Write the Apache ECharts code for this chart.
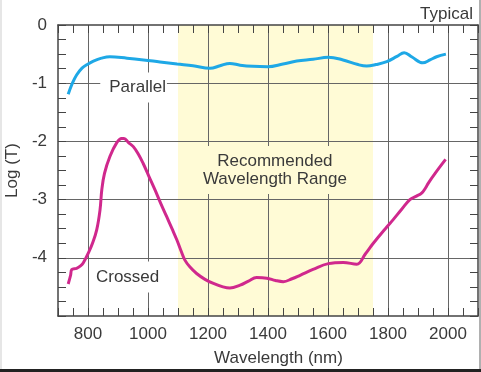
<!DOCTYPE html>
<html>
<head>
<meta charset="utf-8">
<script src="https://cdn.jsdelivr.net/npm/echarts@6/dist/echarts.min.js"></script>
<style>html,body{margin:0;padding:0;background:#fff;}#c{width:481px;height:372px;}</style>
</head>
<body>
<div id="c"></div>
<script>
// ---- data ----
var parallel = [[734,-1.19],[748,-1.0],[762,-0.86],[780,-0.74],[800,-0.67],[818,-0.62],[845,-0.57],[873,-0.545],[930,-0.57],[985,-0.60],[1040,-0.635],[1097,-0.67],[1150,-0.70],[1207,-0.745],[1240,-0.70],[1273,-0.66],[1307,-0.69],[1350,-0.71],[1399,-0.716],[1450,-0.67],[1496,-0.62],[1550,-0.59],[1601,-0.555],[1650,-0.60],[1700,-0.68],[1729,-0.705],[1760,-0.68],[1796,-0.63],[1830,-0.54],[1854,-0.475],[1880,-0.55],[1916,-0.65],[1940,-0.60],[1962,-0.545],[1993,-0.50]];
var crossed = [[734,-4.45],[742,-4.30],[746,-4.20],[762,-4.18],[775,-4.14],[784,-4.09],[801,-3.92],[815,-3.75],[829,-3.52],[840,-3.18],[846,-2.83],[855,-2.55],[873,-2.26],[895,-2.03],[912,-1.95],[920,-1.95],[935,-2.02],[951,-2.09],[968,-2.22],[984,-2.38],[1003,-2.60],[1023,-2.83],[1042,-3.06],[1062,-3.29],[1080,-3.50],[1096,-3.69],[1110,-3.88],[1123,-4.04],[1140,-4.16],[1162,-4.27],[1190,-4.37],[1218,-4.44],[1250,-4.50],[1273,-4.52],[1307,-4.47],[1335,-4.40],[1362,-4.34],[1396,-4.35],[1425,-4.39],[1451,-4.41],[1480,-4.36],[1507,-4.30],[1550,-4.20],[1601,-4.10],[1651,-4.08],[1696,-4.11],[1725,-3.93],[1751,-3.75],[1796,-3.47],[1818,-3.34],[1845,-3.17],[1873,-3.0],[1895,-2.94],[1912,-2.89],[1925,-2.80],[1934,-2.72],[1957,-2.55],[1992,-2.31]];
var xTickLabels = [800,1000,1200,1400,1600,1800,2000];
var yTickLabels = [0,-1,-2,-3,-4];
var xGridLines = [800,1000,1200,1400,1600,1800,2000];
var yGridLines = [-1,-2,-3,-4];
var recommendedRange = [1100,1750];
var annotations = [
  {text:'Parallel', coord:[952,-1.074], bg:'#ffffff', padding:[6,1,6,9]},
  {text:'Crossed', coord:[932,-4.33], bg:'#ffffff', padding:[6,4,7,4]},
  {text:'Recommended\nWavelength Range', coord:[1423,-2.49], bg:'#fffbd6', padding:[7,8,5,8]}
];

var FONT = 'Liberation Sans, Arial, Helvetica, sans-serif';
var TXT = '#3a3a3a';
var AX = '#444';

function xAxisDef(pos, showLabel){
  return {
    type:'value', position:pos, min:700, max:2100, interval:50, z:3,
    axisLine:{show:true, onZero:false, lineStyle:{color:AX, width:1.5}},
    axisTick:{show:true, inside:true, length:8, lineStyle:{color:AX, width:1}},
    axisLabel:{show:showLabel, margin:10, fontSize:17, fontFamily:FONT, color:TXT,
      formatter:function(v){ return xTickLabels.indexOf(v) >= 0 ? String(v) : ''; }},
    splitLine:{show:false}
  };
}
function yAxisDef(pos, showLabel){
  return {
    type:'value', position:pos, min:-5, max:0, interval:0.25, z:3,
    axisLine:{show:true, onZero:false, lineStyle:{color:AX, width:1.5}},
    axisTick:{show:true, inside:true, length:8, lineStyle:{color:AX, width:1}},
    axisLabel:{show:showLabel, margin:11, fontSize:17, fontFamily:FONT, color:TXT,
      formatter:function(v){ return yTickLabels.indexOf(v) >= 0 ? String(v) : ''; }},
    splitLine:{show:false}
  };
}

var xa0 = xAxisDef('bottom', true);
xa0.name = 'Wavelength (nm)';
xa0.nameLocation = 'middle';
xa0.nameGap = 34;
xa0.nameTextStyle = {fontSize:17, fontFamily:FONT, color:TXT, padding:[0,0,0,21]};
var ya0 = yAxisDef('left', true);
ya0.name = 'Log (T)';
ya0.nameLocation = 'middle';
ya0.nameGap = 37;
ya0.nameRotate = 90;
ya0.nameTextStyle = {fontSize:17, fontFamily:FONT, color:TXT};

var gridData = xGridLines.map(function(v){return {xAxis:v};}).concat(yGridLines.map(function(v){return {yAxis:v};}));

var chart = echarts.init(document.getElementById('c'), null, {renderer:'canvas'});
chart.setOption({
  animation:false,
  backgroundColor:'#ffffff',
  title:{text:'Typical', right:3, top:1, textStyle:{fontSize:17, fontWeight:'normal', fontFamily:FONT, color:TXT}},
  grid:{left:58, right:3, top:25, bottom:56, containLabel:false, outerBoundsMode:'none'},
  xAxis:[xa0, xAxisDef('top', false)],
  yAxis:[ya0, yAxisDef('right', false)],
  graphic:[
    {type:'rect', left:0, top:0, shape:{width:2, height:372}, style:{fill:'#e6e6e6'}, z:10},
    {type:'rect', left:479, top:0, shape:{width:2, height:372}, style:{fill:'#b0b0b0'}, z:10},
    {type:'rect', left:0, top:369, shape:{width:481, height:3}, style:{fill:'#222'}, z:10}
  ],
  series:[
    {type:'line', data:[], z:1, silent:true,
      markArea:{silent:true, z:1, itemStyle:{color:'#fffbd6'},
        data:[[{xAxis:recommendedRange[0]},{xAxis:recommendedRange[1]}]]},
      markLine:{silent:true, z:1.5, symbol:['none','none'], label:{show:false},
        lineStyle:{color:'#666', width:1, type:'solid'}, emphasis:{disabled:true},
        data:gridData}
    },
    {type:'line', name:'Parallel', data:parallel, smooth:0.4, showSymbol:false, z:2,
      lineStyle:{color:'#1ea8e6', width:3}, itemStyle:{color:'#1ea8e6'}},
    {type:'line', name:'Crossed', data:crossed, smooth:0.4, showSymbol:false, z:2,
      lineStyle:{color:'#d0288d', width:3}, itemStyle:{color:'#d0288d'}},
    {type:'line', data:[], z:4, silent:true,
      markPoint:{silent:true, z:4, symbol:'rect', symbolSize:0,
        data:annotations.map(function(a){
          return {coord:a.coord, value:a.text,
            label:{show:true, position:'inside', formatter:a.text, fontSize:17, lineHeight:18,
              fontFamily:FONT, color:TXT, backgroundColor:a.bg, padding:a.padding, align:'center'}};
        })}
    }
  ]
});
</script>
</body>
</html>
